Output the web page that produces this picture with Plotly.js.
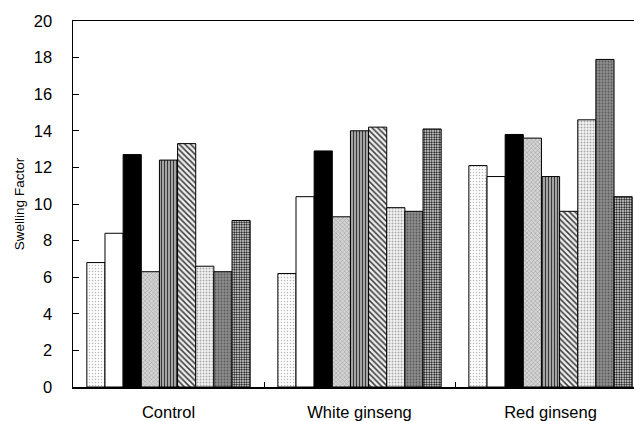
<!DOCTYPE html>
<html>
<head>
<meta charset="utf-8">
<script src="https://cdn.plot.ly/plotly-3.0.1.min.js"></script>
<style>html,body{margin:0;padding:0;background:#fff;}</style>
</head>
<body>
<div id="chart" style="width:634px;height:421px;"></div>
<script>
const categories = ["Control", "White ginseng", "Red ginseng"];
const s1 = [6.8, 6.2, 12.1];
const s2 = [8.4, 10.4, 11.5];
const s3 = [12.7, 12.9, 13.8];
const s4 = [6.3, 9.3, 13.6];
const s5 = [12.4, 14.0, 11.5];
const s6 = [13.3, 14.2, 9.6];
const s7 = [6.6, 9.8, 14.6];
const s8 = [6.3, 9.6, 17.9];
const s9 = [9.1, 14.1, 10.4];
const yTicks = [0, 2, 4, 6, 8, 10, 12, 14, 16, 18, 20];

const styles = [
  {bg: "#ffffff", pattern: {shape: ".", size: 3, solidity: 0.2, fgcolor: "#b8b8b8", bgcolor: "#ffffff"}},
  {bg: "#ffffff", pattern: null},
  {bg: "#000000", pattern: null},
  {bg: "#d0d0d0", pattern: {shape: "x", size: 3, solidity: 0.3, fgcolor: "#999999", bgcolor: "#d4d4d4"}},
  {bg: "#c0c0c0", pattern: {shape: "|", size: 3, solidity: 0.5, fgcolor: "#383838", bgcolor: "#c8c8c8"}},
  {bg: "#e0e0e0", pattern: {shape: "\\", size: 4, solidity: 0.4, fgcolor: "#404040", bgcolor: "#f0f0f0"}},
  {bg: "#ffffff", pattern: {shape: ".", size: 3, solidity: 0.35, fgcolor: "#a8a8a8", bgcolor: "#f6f6f6"}},
  {bg: "#808080", pattern: {shape: ".", size: 3, solidity: 0.3, fgcolor: "#5a5a5a", bgcolor: "#8c8c8c"}},
  {bg: "#ffffff", pattern: {shape: ".", size: 2.5, solidity: 0.5, fgcolor: "#000000", bgcolor: "#ffffff"}}
];
const series = [s1, s2, s3, s4, s5, s6, s7, s8, s9];

const traces = series.map((vals, i) => {
  const st = styles[i];
  const marker = {color: st.bg, line: {color: "#000000", width: 1}};
  if (st.pattern) marker.pattern = Object.assign({fillmode: "replace"}, st.pattern);
  return {type: "bar", x: categories, y: vals, marker: marker, showlegend: false, hoverinfo: "skip"};
});

const FONT = "Liberation Sans, Arial, sans-serif";
const layout = {
  width: 634, height: 421,
  margin: {l: 73, r: 0, t: 21, b: 34, pad: 0},
  paper_bgcolor: "#ffffff", plot_bgcolor: "#ffffff",
  barmode: "group", bargap: 0.145, bargroupgap: 0,
  font: {family: FONT, size: 13, color: "#000"},
  xaxis: {
    type: "category", range: [-0.5, 2.437],
    showline: true, linecolor: "#000", linewidth: 1.5, mirror: true,
    ticks: "inside", tickson: "boundaries", ticklen: 5, tickcolor: "#000",
    showgrid: false, zeroline: false, ticklabelstandoff: 10,
    tickfont: {family: FONT, size: 16.5}
  },
  yaxis: {
    range: [0, 20], tickvals: yTicks, ticktext: yTicks.map(String),
    showline: true, linecolor: "#000", linewidth: 1.5,
    ticks: "inside", ticklen: 6, tickcolor: "#000",
    showgrid: false, zeroline: false, ticklabelstandoff: 16,
    tickfont: {family: FONT, size: 16.5},
    title: {text: "Swelling Factor", font: {family: FONT, size: 13.5}, standoff: 6}
  }
};

Plotly.newPlot("chart", traces, layout, {staticPlot: true, displayModeBar: false});
</script>
</body>
</html>
